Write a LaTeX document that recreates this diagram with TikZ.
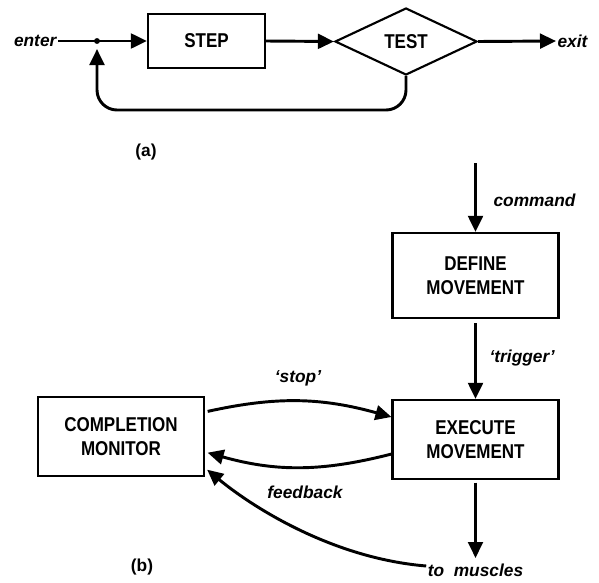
\documentclass[tikz,border=0pt]{standalone}
\usepackage{fontspec}
\setmainfont{Liberation Sans}
\newfontfamily\boxfont{Liberation Sans}[FakeStretch=0.85]
\usetikzlibrary{shapes.geometric,arrows.meta,calc}
\begin{document}
\begin{tikzpicture}[x=0.75pt,y=-0.75pt,
  box/.style={draw, line width=1.6pt, inner sep=0pt, align=center, font=\boxfont\bfseries\fontsize{15}{18}\selectfont},
  lbl/.style={font=\fontsize{13}{15}\selectfont\bfseries\itshape, inner sep=1pt},
  tag/.style={font=\fontsize{13}{15}\selectfont\bfseries, inner sep=1pt},
  arr/.style={line width=2.2pt, -{Triangle[length=12pt,width=11pt]}},
  ln/.style={line width=2.2pt}]
\useasboundingbox (0,0) rectangle (599,582);

% ---------- (a) ----------
\node[box, minimum width=87.75pt, minimum height=40.5pt] (step) at (206.5,41) {STEP};
\node[box, diamond, minimum width=106.5pt, minimum height=50.25pt] (test) at (406,41.5) {TEST};
\node[lbl, anchor=east] (enter) at (58,41) {enter};
\node[lbl, anchor=west] (exit) at (556,41) {exit};
\coordinate (j) at (97,41);
\coordinate (lb) at (97,110);
\fill (j) circle[radius=2.2pt];
\draw[ln] (enter.east) -- (j);
\draw[arr] (j) -- (step.west);
\draw[arr] (step.east) -- (test.west);
\draw[arr] (test.east) -- (exit.west);
\draw[arr, rounded corners=15pt, shorten >=6pt] (test.south) |- (lb) -- (j);
\node[tag] (la) at (146,152) {(a)};

% ---------- (b) ----------
\coordinate (cmd) at (475.5,163);
\node[box, minimum width=124.5pt, minimum height=63.75pt] (def) at (475.5,275.5) {DEFINE\\MOVEMENT};
\node[box, minimum width=124.5pt, minimum height=59.25pt] (ex) at (475.5,439.5) {EXECUTE\\MOVEMENT};
\node[box, minimum width=124.5pt, minimum height=59.25pt] (cm) at (121,436.5) {COMPLETION\\MONITOR};
\node[lbl, anchor=west] (lcmd) at (492,200) {command};
\node[lbl, anchor=west] (ltrig) at (488,358) {`trigger'};
\node[lbl] (lstop) at (298,378) {`stop'};
\node[lbl] (lfb) at (305,492) {feedback};
\node[lbl] (mus) at (475.5,570) {to\ \ muscles};
\node[tag] (lb2) at (142,567) {(b)};

\draw[arr] (cmd) -- (def.north);
\draw[arr, shorten <=3pt] (def.south) -- (ex.north);
\draw[arr, shorten <=2pt] ([yshift=18.4pt]cm.east) to[bend left=14] ([yshift=16.9pt]ex.west);
\draw[arr, shorten >=2pt] ([yshift=-10.9pt]ex.west) to[bend left=15] ([yshift=-11.6pt]cm.east);
\draw[arr, shorten <=2pt, shorten >=3pt] (ex.south) -- (mus.north);
\draw[arr, shorten >=2pt] ([yshift=3pt]mus.west) .. controls (330,558) and (250,505) .. ([yshift=-23.6pt]cm.east);
\end{tikzpicture}
\end{document}
